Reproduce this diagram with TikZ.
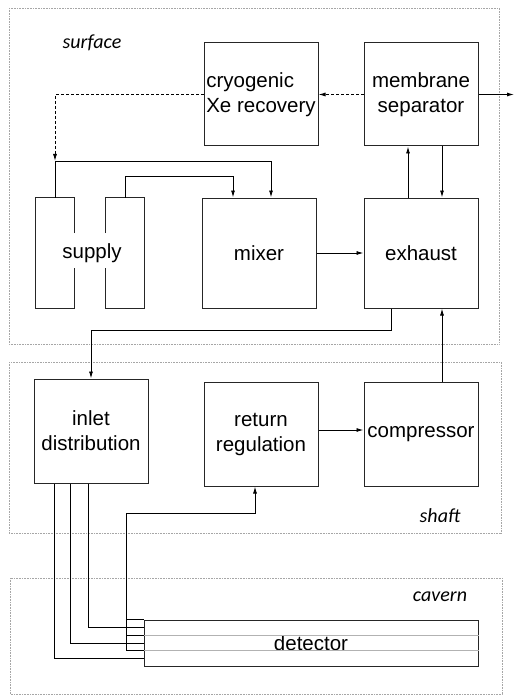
\documentclass[tikz,border=0pt]{standalone}
\usepackage{fontspec}
\setmainfont{Liberation Sans}
\newfontfamily\zonefont{Carlito}
\usetikzlibrary{arrows.meta,calc,positioning}

\begin{document}
\begin{tikzpicture}[
  x=1pt,y=-1pt,
  every node/.style={font=\fontsize{20.5}{25}\selectfont},
  blockbox/.style={draw=black!85,line width=1pt,minimum width=114pt,minimum height=104pt,
                   align=center,inner sep=1pt},
  tankbox/.style={minimum width=38pt,minimum height=110pt,inner sep=0pt},
  tankline/.style={draw=black!85,line width=1pt},
  zone/.style={draw=black!35,line width=0.8pt,dash pattern=on 0.8pt off 0.8pt},
  zonelabel/.style={font=\zonefont\itshape\fontsize{20}{24}\selectfont},
  pipe/.style={draw=black,line width=0.9pt},
  flow/.style={pipe,-{Latex[length=7pt,width=4pt]}},
  dashflow/.style={flow,dash pattern=on 3pt off 2pt},
]
  \useasboundingbox (0,0) rectangle (515,695);

  % surface
  \draw[zone] (9,8) rectangle (499,344);
  \node[zonelabel] (surflabel) at (92,43) {surface};
  \node[blockbox,minimum height=103pt,align=left] (cryo) at (261,94.5) {cryogenic\\Xe recovery};
  \node[blockbox,minimum height=103pt] (membrane) at (421,94.5) {membrane\\separator};
  \node[tankbox] (supL) at (55,253) {};
  \node[tankbox] (supR) at (125,253) {};
  \node (supply) at (92,253) {supply};
  \node[blockbox,minimum height=110pt] (mixer) at (259,253) {mixer};
  \node[blockbox,minimum height=110pt] (exhaust) at (421,253) {exhaust};

  % supply tanks, open round the label
  \draw[tankline] ($(supL.north east)!0.32!(supL.south east)$) |- (supL.north west)
    -- (supL.south west) -| ($(supL.north east)!0.64!(supL.south east)$);
  \draw[tankline] ($(supR.north west)!0.32!(supR.south west)$) |- (supR.north east)
    -- (supR.south east) -| ($(supR.north west)!0.64!(supR.south west)$);

  \coordinate (tee) at (55,161);
  \coordinate (vent) at (514,94.5);
  \draw[dashflow] (membrane.west) -- (cryo.east);
  \draw[dashflow] (cryo.west) -| (tee);
  \draw[flow] (supL.north) -- (tee) -| ([xshift=12pt]mixer.north);
  \draw[flow] (supR.north) -- ++(0,-21) -| ([xshift=-26pt]mixer.north);
  \draw[flow] (mixer.east) -- (exhaust.west);
  \draw[flow] ([xshift=-13pt]exhaust.north) -- ([xshift=-13pt]membrane.south);
  \draw[flow] ([xshift=21pt]membrane.south) -- ([xshift=21pt]exhaust.north);
  \draw[flow] (membrane.east) -- (vent);

  % shaft
  \draw[zone] (9,362) rectangle (501,533);
  \node[zonelabel] (shaftlabel) at (440,516) {shaft};
  \node[blockbox] (inlet) at (91,431) {inlet\\distribution};
  \node[blockbox] (retreg) at (261,434) {return\\regulation};
  \node[blockbox] (compressor) at (421,434) {compressor};
  \draw[flow] ([xshift=-30pt]exhaust.south) -- ++(0,22) -| (inlet.north);
  \draw[flow] ([xshift=21pt]compressor.north) -- ([xshift=21pt]exhaust.south);
  \draw[flow] ([yshift=4pt]retreg.east) -- ([yshift=4pt]compressor.west);

  % cavern
  \draw[zone] (10,578) rectangle (502,694);
  \node[zonelabel] (cavlabel) at (440,597) {cavern};
  \node[draw=black!85,line width=1pt,minimum width=334pt,minimum height=46pt,inner sep=0pt]
    (detector) at (311,643) {detector};
  \draw[black!30,line width=0.9pt] ($(detector.north west)!1/3!(detector.south west)$)
    -- ($(detector.north east)!1/3!(detector.south east)$);
  \draw[black!30,line width=0.9pt] ($(detector.north west)!2/3!(detector.south west)$)
    -- ($(detector.north east)!2/3!(detector.south east)$);

  % inlet lines into the detector
  \coordinate (row1) at ($(detector.north west)!1/6!(detector.south west)$);
  \coordinate (row2) at ($(detector.north west)!1/2!(detector.south west)$);
  \coordinate (row3) at ($(detector.north west)!5/6!(detector.south west)$);
  \draw[pipe] ([xshift=-3pt]inlet.south) |- (row1);
  \draw[pipe] ([xshift=-21pt]inlet.south) |- (row2);
  \draw[pipe] ([xshift=-37pt]inlet.south) |- (row3);

  % return lines
  \coordinate (tap1) at (detector.north west);
  \coordinate (tap2) at ($(detector.north west)!1/3!(detector.south west)$);
  \coordinate (tap3) at ($(detector.north west)!2/3!(detector.south west)$);
  \coordinate (busbend) at (126,513);
  \draw[pipe] (tap1) -- (tap1 -| busbend);
  \draw[pipe] (tap2) -- (tap2 -| busbend);
  \draw[flow] (tap3) -| (busbend) -| ([xshift=-6pt]retreg.south);
\end{tikzpicture}
\end{document}
